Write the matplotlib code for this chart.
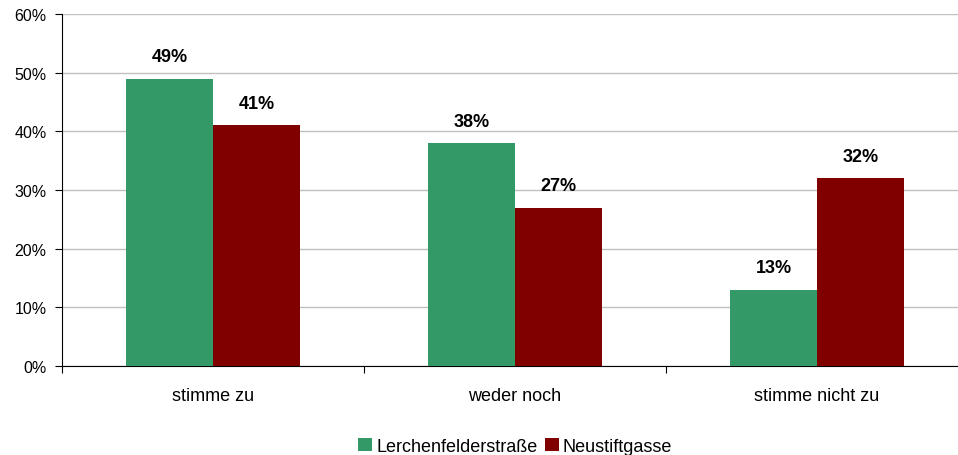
import matplotlib.pyplot as plt
import numpy as np

plt.rcParams['font.family'] = ['Liberation Sans', 'DejaVu Sans']

categories = ['stimme zu', 'weder noch', 'stimme nicht zu']
lerchenfelder = [49, 38, 13]
neustift = [41, 27, 32]
series_names = ['Lerchenfelderstraße', 'Neustiftgasse']
colors = ['#339966', '#800000']

fig = plt.figure(figsize=(9.58, 4.56), dpi=100)
ax = fig.add_axes([62 / 958, 1 - 367 / 456, 906 / 958, 352 / 456])

x = np.arange(len(categories))
w = 0.288
b1 = ax.bar(x - w / 2, lerchenfelder, w, color=colors[0], label=series_names[0], zorder=3)
b2 = ax.bar(x + w / 2, neustift, w, color=colors[1], label=series_names[1], zorder=3)

for bars, vals in ((b1, lerchenfelder), (b2, neustift)):
    for r, v in zip(bars, vals):
        ax.text(r.get_x() + r.get_width() / 2, v + 2.3, f'{v}%', ha='center', va='bottom',
                fontsize=13, fontweight='bold')

ax.set_ylim(0, 60)
ax.set_xlim(-0.5, 2.5)
ax.set_yticks(range(0, 61, 10))
ax.set_yticklabels([f'{t}%' for t in range(0, 61, 10)], fontsize=11.5)
ax.yaxis.grid(True, color='#c0c0c0', linewidth=1, zorder=0)
ax.set_axisbelow(True)

ax.set_xticks([-0.5, 0.5, 1.5, 2.5])
ax.set_xticklabels([])
ax.set_xticks(x, minor=True)
ax.set_xticklabels(categories, minor=True, fontsize=13)
ax.tick_params(axis='x', which='minor', length=0, pad=15)
ax.tick_params(axis='x', which='major', length=5, direction='out', color='black')
ax.tick_params(axis='y', length=5, direction='out', pad=6)

for s in ('top', 'right'):
    ax.spines[s].set_visible(False)
ax.spines['left'].set_color('black')
ax.spines['bottom'].set_color('black')

fig.legend(handles=[b1, b2], labels=series_names, loc='lower center',
           bbox_to_anchor=(515 / 958, -0.035), ncol=2, frameon=False, fontsize=13,
           handlelength=0.8, handleheight=0.8, handletextpad=0.2, columnspacing=0.4)

fig.savefig('out.png', dpi=100)
